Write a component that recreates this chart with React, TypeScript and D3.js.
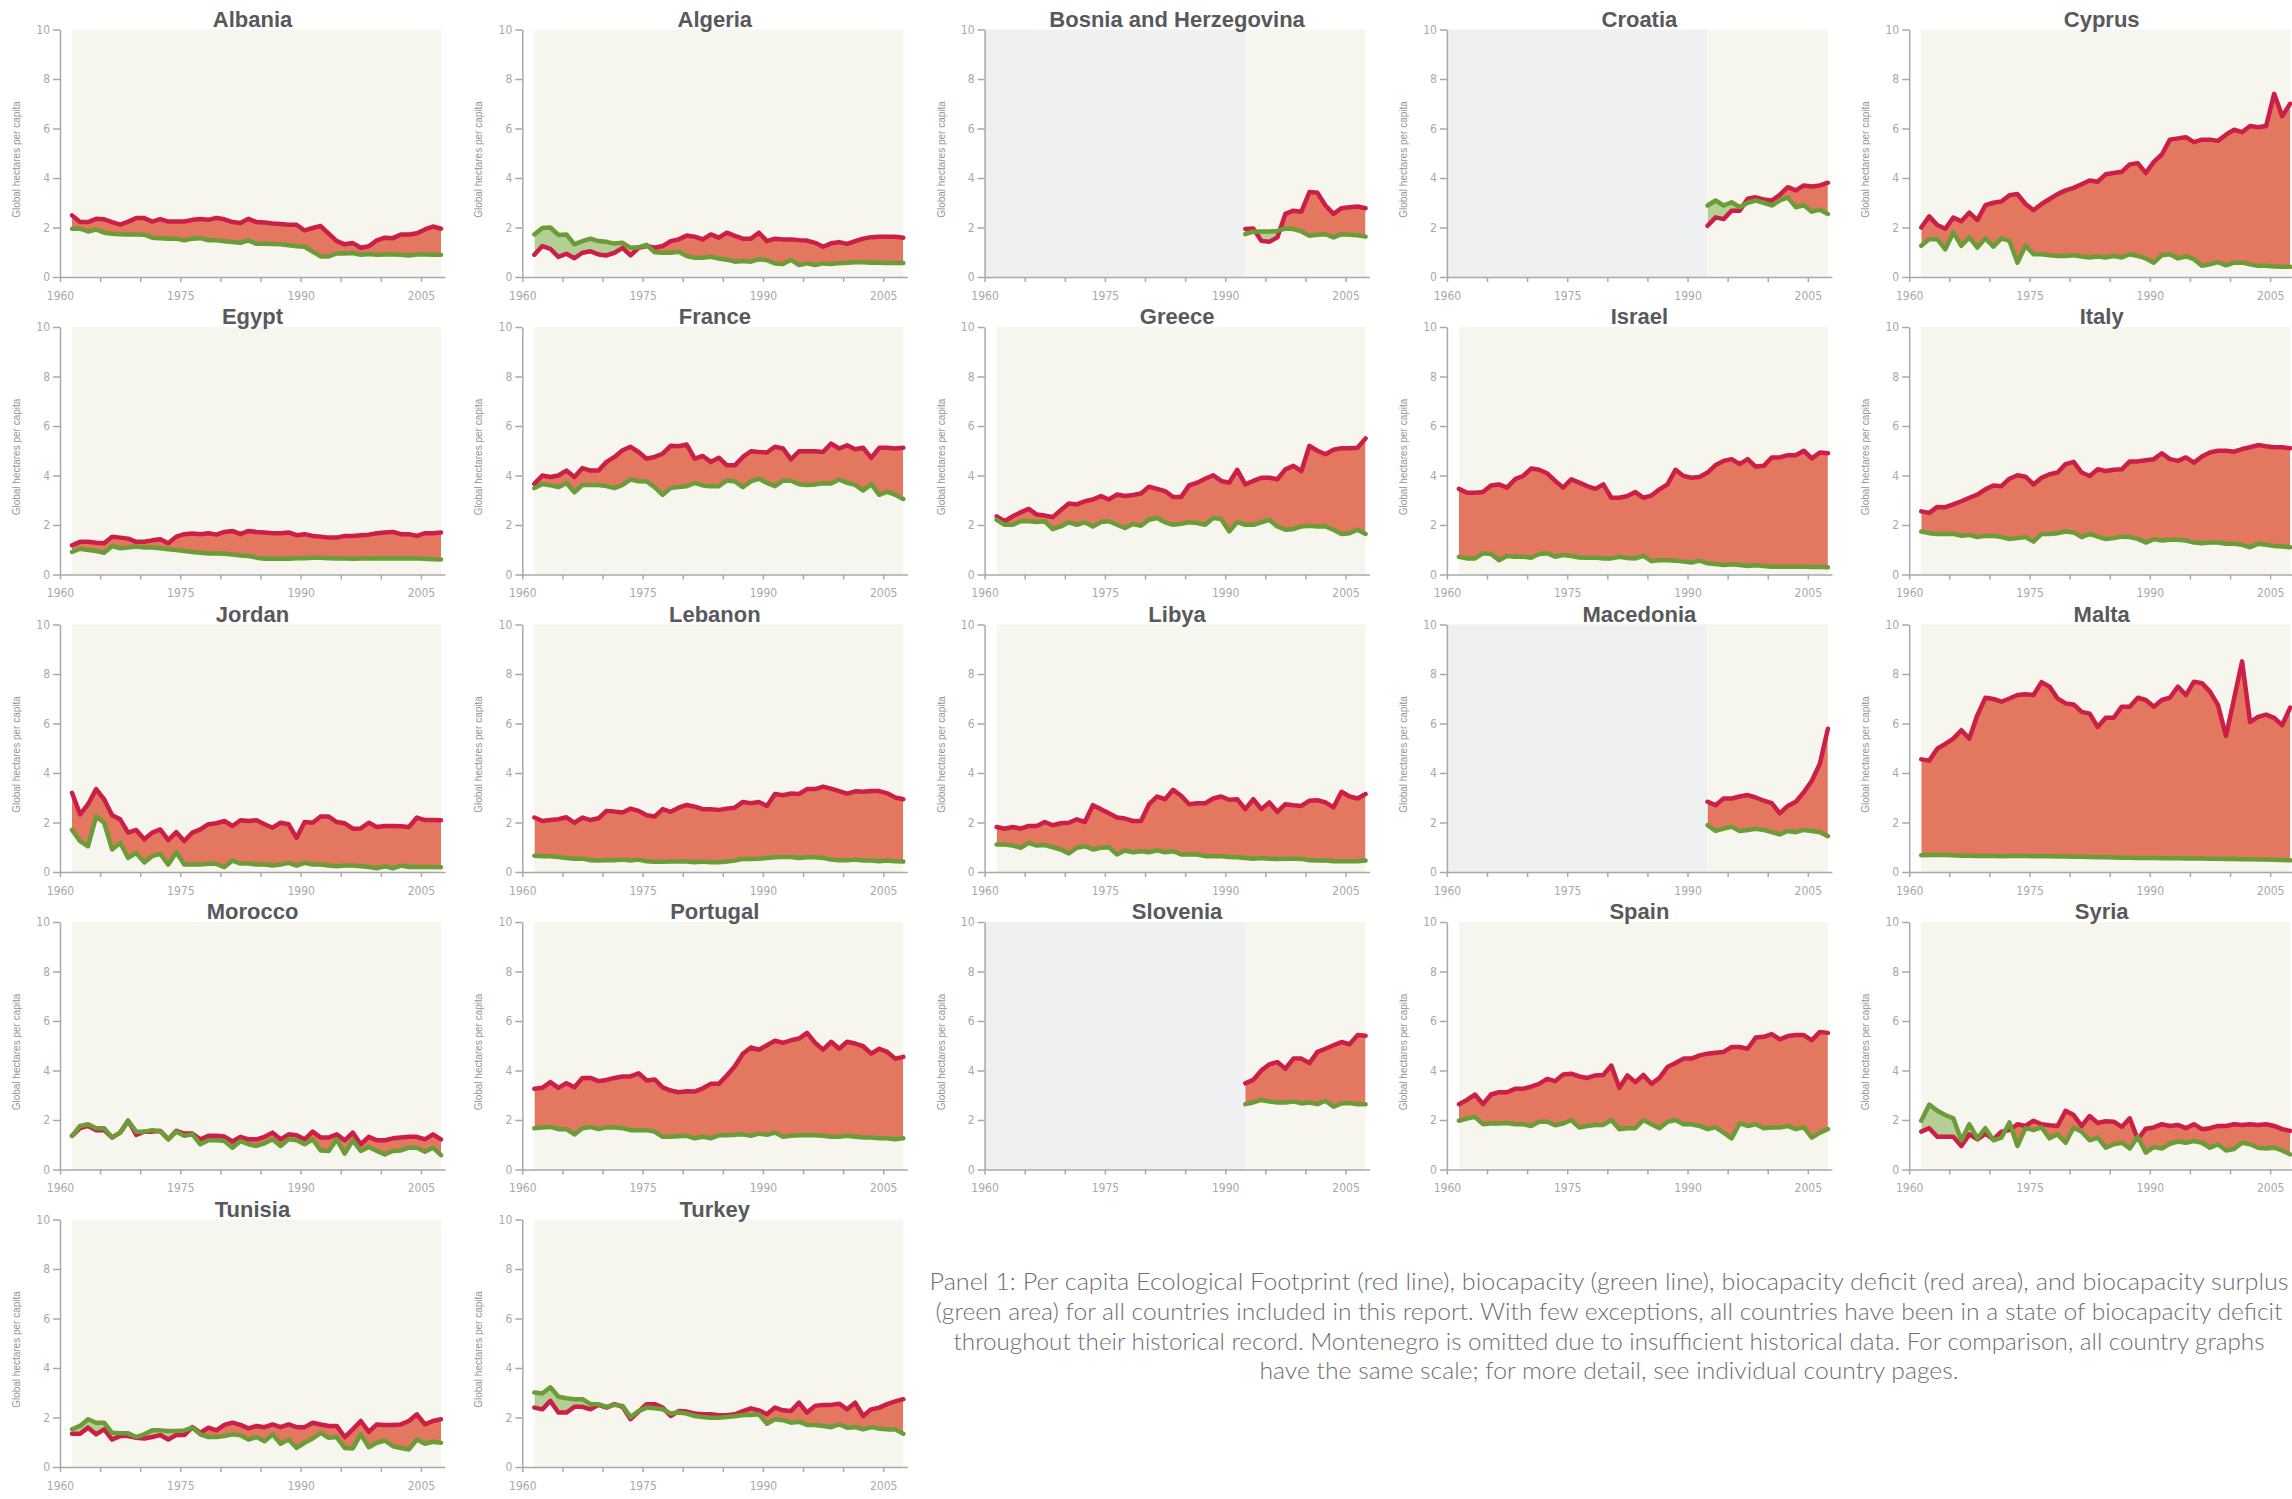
import React, { useRef, useEffect } from 'react';
import * as d3 from 'd3';

// Per capita footprint (red) and biocapacity (green), gha.
// Full series run 1961-2007, the four post-Yugoslav series 1992-2007.
const albaniaFootprint = [2.49,2.22,2.22,2.35,2.33,2.22,2.12,2.24,2.38,2.38, 2.24,2.34,2.24,2.24,2.24,2.31,2.34,2.31,2.39,2.33, 2.22,2.18,2.35,2.22,2.2,2.16,2.14,2.11,2.11,1.88, 1.98,2.06,1.75,1.45,1.32,1.37,1.18,1.24,1.48,1.59, 1.57,1.72,1.72,1.77,1.92,2.04,1.95];
const albaniaBiocapacity = [1.95,1.95,1.84,1.92,1.79,1.75,1.73,1.72,1.72,1.71, 1.59,1.57,1.55,1.55,1.48,1.55,1.57,1.48,1.48,1.44, 1.41,1.38,1.48,1.34,1.34,1.33,1.32,1.28,1.24,1.22, 1.03,0.83,0.83,0.95,0.95,0.97,0.9,0.93,0.9,0.91, 0.91,0.9,0.87,0.91,0.91,0.9,0.9];
const algeriaFootprint = [0.9,1.25,1.14,0.81,0.94,0.76,0.98,1.04,0.91,0.87, 0.98,1.18,0.87,1.18,1.25,1.18,1.25,1.45,1.52,1.68, 1.63,1.52,1.72,1.59,1.79,1.66,1.55,1.55,1.79,1.45, 1.55,1.52,1.52,1.49,1.47,1.38,1.22,1.36,1.41,1.34, 1.45,1.55,1.61,1.63,1.63,1.63,1.59];
const algeriaBiocapacity = [1.72,1.98,2.0,1.7,1.72,1.32,1.45,1.55,1.45,1.42, 1.35,1.38,1.18,1.2,1.3,1.0,0.98,0.98,1.02,0.85, 0.78,0.78,0.82,0.75,0.7,0.62,0.65,0.62,0.72,0.68, 0.55,0.52,0.7,0.48,0.55,0.48,0.55,0.52,0.56,0.58, 0.6,0.6,0.58,0.58,0.57,0.57,0.57];
const bosniaFootprint = [1.94,1.96,1.46,1.42,1.6,2.55,2.68,2.64,3.43,3.4,2.89,2.55,2.78,2.82,2.85,2.78];
const bosniaBiocapacity = [1.73,1.83,1.84,1.84,1.86,1.96,1.94,1.84,1.67,1.71,1.73,1.6,1.73,1.71,1.69,1.63];
const croatiaFootprint = [2.07,2.41,2.34,2.68,2.68,3.16,3.22,3.13,3.09,3.32,3.63,3.5,3.7,3.66,3.7,3.81];
const croatiaBiocapacity = [2.89,3.09,2.89,3.02,2.82,3.0,3.09,3.0,2.89,3.09,3.22,2.82,2.9,2.64,2.72,2.55];
const cyprusFootprint = [2.0,2.45,2.1,1.95,2.4,2.25,2.6,2.3,2.9,3.0, 3.05,3.3,3.35,2.95,2.7,2.95,3.15,3.35,3.5,3.6, 3.75,3.9,3.85,4.15,4.2,4.25,4.55,4.6,4.2,4.65, 4.95,5.55,5.6,5.65,5.45,5.55,5.55,5.5,5.75,5.95, 5.85,6.1,6.05,6.1,7.4,6.5,7.0];
const cyprusBiocapacity = [1.26,1.53,1.53,1.12,1.8,1.26,1.6,1.19,1.56,1.23, 1.56,1.46,0.58,1.26,0.92,0.92,0.88,0.85,0.85,0.88, 0.83,0.79,0.83,0.79,0.85,0.79,0.92,0.85,0.75,0.58, 0.88,0.92,0.75,0.83,0.72,0.45,0.51,0.6,0.47,0.58, 0.58,0.51,0.45,0.45,0.42,0.41,0.41];
const egyptFootprint = [1.18,1.32,1.32,1.28,1.26,1.53,1.49,1.45,1.32,1.32, 1.38,1.42,1.26,1.53,1.63,1.66,1.63,1.67,1.61,1.72, 1.76,1.63,1.76,1.72,1.7,1.67,1.67,1.7,1.59,1.63, 1.56,1.53,1.49,1.49,1.56,1.56,1.59,1.61,1.67,1.7, 1.72,1.63,1.63,1.56,1.67,1.67,1.7];
const egyptBiocapacity = [0.91,1.04,0.99,0.95,0.88,1.15,1.06,1.09,1.13,1.09, 1.09,1.06,1.02,0.99,0.95,0.91,0.88,0.85,0.85,0.84, 0.81,0.77,0.75,0.68,0.64,0.64,0.64,0.64,0.66,0.66, 0.68,0.68,0.66,0.65,0.65,0.64,0.65,0.65,0.66,0.65, 0.65,0.66,0.65,0.65,0.64,0.62,0.61];
const franceFootprint = [3.66,4.0,3.94,4.0,4.2,3.94,4.3,4.2,4.2,4.55, 4.75,5.02,5.16,4.95,4.68,4.75,4.88,5.2,5.18,5.25, 4.68,4.79,4.55,4.72,4.41,4.41,4.75,4.98,4.95,4.93, 5.16,5.09,4.65,4.98,4.98,4.98,4.95,5.29,5.09,5.22, 5.06,5.12,4.71,5.12,5.12,5.09,5.12];
const franceBiocapacity = [3.49,3.66,3.6,3.53,3.7,3.32,3.62,3.62,3.62,3.57, 3.49,3.62,3.84,3.77,3.76,3.53,3.22,3.49,3.53,3.57, 3.7,3.6,3.57,3.57,3.8,3.76,3.53,3.76,3.87,3.7, 3.57,3.79,3.79,3.65,3.62,3.64,3.69,3.68,3.84,3.7, 3.62,3.39,3.65,3.22,3.35,3.22,3.05];
const greeceFootprint = [2.35,2.15,2.35,2.51,2.65,2.42,2.38,2.32,2.6,2.87, 2.83,2.96,3.03,3.17,3.03,3.23,3.17,3.21,3.27,3.55, 3.46,3.37,3.13,3.13,3.6,3.71,3.87,4.01,3.78,3.71, 4.23,3.64,3.78,3.91,3.91,3.85,4.25,4.39,4.18,5.2, 5.0,4.86,5.04,5.1,5.1,5.12,5.5];
const greeceBiocapacity = [2.21,2.01,2.01,2.15,2.15,2.12,2.15,1.83,1.94,2.11, 2.01,2.11,1.94,2.12,2.15,2.01,1.88,2.04,1.97,2.21, 2.28,2.11,2.01,2.05,2.11,2.08,2.01,2.28,2.24,1.74, 2.12,2.01,2.01,2.11,2.21,1.94,1.81,1.83,1.94,1.97, 1.94,1.94,1.81,1.64,1.67,1.81,1.64];
const israelFootprint = [3.46,3.3,3.3,3.33,3.6,3.64,3.51,3.85,3.98,4.28, 4.23,4.09,3.78,3.51,3.85,3.71,3.57,3.46,3.64,3.1, 3.1,3.17,3.33,3.1,3.19,3.44,3.64,4.23,3.98,3.91, 3.94,4.12,4.42,4.59,4.66,4.46,4.66,4.36,4.39,4.73, 4.73,4.82,4.82,5.0,4.69,4.93,4.9];
const israelBiocapacity = [0.72,0.65,0.65,0.86,0.83,0.58,0.75,0.72,0.72,0.68, 0.83,0.86,0.72,0.79,0.75,0.69,0.68,0.69,0.65,0.65, 0.72,0.67,0.65,0.75,0.54,0.58,0.58,0.56,0.52,0.48, 0.56,0.45,0.42,0.38,0.41,0.38,0.34,0.37,0.34,0.31, 0.31,0.31,0.31,0.31,0.3,0.3,0.29];
const italyFootprint = [2.55,2.49,2.73,2.72,2.83,2.96,3.1,3.23,3.44,3.6, 3.57,3.87,4.01,3.95,3.64,3.91,4.05,4.12,4.46,4.55, 4.12,3.98,4.25,4.18,4.23,4.25,4.57,4.57,4.62,4.66, 4.9,4.66,4.59,4.73,4.52,4.77,4.93,5.0,5.0,4.96, 5.07,5.14,5.23,5.18,5.14,5.14,5.1];
const italyBiocapacity = [1.74,1.67,1.64,1.64,1.64,1.56,1.6,1.51,1.56,1.56, 1.51,1.43,1.47,1.51,1.33,1.64,1.64,1.67,1.74,1.7, 1.51,1.64,1.53,1.43,1.47,1.53,1.51,1.44,1.29,1.43, 1.37,1.4,1.4,1.37,1.29,1.26,1.29,1.29,1.24,1.24, 1.2,1.1,1.24,1.2,1.15,1.13,1.1];
const jordanFootprint = [3.2,2.33,2.74,3.35,2.94,2.29,2.13,1.59,1.7,1.32, 1.59,1.72,1.29,1.61,1.25,1.59,1.72,1.93,1.97,2.06, 1.86,2.09,2.06,2.09,1.93,1.79,1.99,1.93,1.38,2.02, 1.99,2.24,2.24,2.02,1.97,1.75,1.76,1.99,1.82,1.86, 1.86,1.85,1.82,2.2,2.1,2.1,2.09];
const jordanBiocapacity = [1.7,1.25,1.04,2.24,1.99,0.91,1.18,0.57,0.77,0.39, 0.64,0.73,0.3,0.8,0.3,0.3,0.3,0.33,0.33,0.2, 0.46,0.34,0.34,0.3,0.3,0.26,0.3,0.37,0.26,0.37, 0.3,0.3,0.26,0.23,0.26,0.26,0.23,0.2,0.15,0.23, 0.15,0.26,0.2,0.2,0.2,0.2,0.19];
const lebanonFootprint = [2.2,2.06,2.1,2.13,2.21,1.99,2.2,2.1,2.17,2.47, 2.44,2.4,2.56,2.47,2.29,2.24,2.54,2.43,2.6,2.71, 2.64,2.54,2.54,2.51,2.56,2.6,2.83,2.78,2.83,2.67, 3.15,3.1,3.17,3.15,3.35,3.35,3.45,3.37,3.27,3.17, 3.26,3.24,3.27,3.27,3.18,3.01,2.94];
const lebanonBiocapacity = [0.66,0.64,0.64,0.61,0.57,0.54,0.54,0.47,0.46,0.47, 0.47,0.5,0.46,0.5,0.43,0.41,0.41,0.42,0.42,0.42, 0.39,0.42,0.39,0.39,0.42,0.46,0.53,0.53,0.54,0.57, 0.6,0.61,0.61,0.57,0.6,0.6,0.57,0.5,0.47,0.47, 0.5,0.46,0.46,0.43,0.46,0.43,0.42];
const libyaFootprint = [1.82,1.75,1.82,1.75,1.86,1.86,2.02,1.89,1.97,1.99, 2.13,2.02,2.7,2.54,2.37,2.2,2.16,2.06,2.06,2.74, 3.05,2.94,3.32,3.08,2.74,2.78,2.78,2.97,3.05,2.92, 2.94,2.54,2.94,2.54,2.81,2.43,2.74,2.7,2.67,2.88, 2.9,2.81,2.61,3.24,3.05,2.97,3.15];
const libyaBiocapacity = [1.11,1.11,1.07,0.98,1.18,1.07,1.09,1.0,0.91,0.75, 0.98,1.04,0.91,0.98,1.0,0.71,0.87,0.8,0.84,0.8, 0.88,0.8,0.84,0.71,0.71,0.71,0.64,0.64,0.64,0.61, 0.6,0.57,0.54,0.57,0.54,0.53,0.54,0.54,0.53,0.47, 0.46,0.46,0.43,0.43,0.43,0.43,0.46];
const macedoniaFootprint = [2.84,2.7,2.97,2.97,3.05,3.11,3.01,2.88,2.78,2.37,2.67,2.84,3.22,3.69,4.37,5.79];
const macedoniaBiocapacity = [1.89,1.66,1.75,1.83,1.66,1.7,1.75,1.7,1.61,1.52,1.66,1.61,1.7,1.66,1.61,1.45];
const maltaFootprint = [4.55,4.5,4.98,5.18,5.39,5.73,5.39,6.34,7.04,6.99, 6.88,7.01,7.15,7.18,7.15,7.67,7.49,7.01,6.81,6.77, 6.47,6.4,5.86,6.23,6.23,6.68,6.68,7.04,6.95,6.68, 6.95,7.04,7.49,7.15,7.69,7.63,7.29,6.74,5.5,7.0, 8.51,6.06,6.27,6.36,6.23,5.93,6.64];
const maltaBiocapacity = [0.68,0.69,0.69,0.69,0.68,0.66,0.66,0.65,0.65,0.65, 0.64,0.65,0.65,0.65,0.64,0.64,0.64,0.63,0.63,0.62, 0.62,0.61,0.6,0.6,0.59,0.58,0.58,0.57,0.57,0.57, 0.56,0.56,0.56,0.55,0.55,0.55,0.54,0.54,0.53,0.53, 0.52,0.52,0.51,0.5,0.49,0.48,0.47];
const moroccoFootprint = [1.36,1.67,1.76,1.59,1.59,1.29,1.49,1.97,1.4,1.53, 1.53,1.56,1.22,1.56,1.45,1.45,1.22,1.36,1.36,1.33, 1.13,1.32,1.22,1.22,1.32,1.49,1.22,1.42,1.38,1.22, 1.53,1.29,1.29,1.42,1.18,1.49,1.02,1.32,1.18,1.18, 1.26,1.29,1.32,1.32,1.22,1.42,1.22];
const moroccoBiocapacity = [1.36,1.76,1.83,1.67,1.67,1.29,1.49,1.97,1.53,1.53, 1.59,1.56,1.22,1.53,1.36,1.42,1.02,1.18,1.18,1.15, 0.88,1.15,1.02,0.95,1.06,1.22,0.95,1.22,1.18,1.02, 1.22,0.77,0.75,1.22,0.64,1.18,0.75,0.91,0.75,0.61, 0.75,0.77,0.88,0.88,0.72,0.88,0.58];
const portugalFootprint = [3.26,3.3,3.53,3.3,3.49,3.32,3.7,3.7,3.57,3.62, 3.7,3.76,3.76,3.89,3.6,3.64,3.32,3.19,3.12,3.16, 3.15,3.28,3.46,3.46,3.8,4.17,4.68,4.93,4.84,5.02, 5.2,5.12,5.22,5.29,5.52,5.12,4.84,5.16,4.88,5.16, 5.09,4.98,4.68,4.88,4.75,4.48,4.55];
const portugalBiocapacity = [1.67,1.7,1.72,1.63,1.63,1.42,1.67,1.72,1.63,1.7, 1.7,1.67,1.59,1.59,1.59,1.53,1.32,1.32,1.34,1.36, 1.26,1.32,1.26,1.38,1.38,1.4,1.42,1.36,1.45,1.4, 1.49,1.32,1.36,1.38,1.38,1.38,1.36,1.32,1.32,1.36, 1.32,1.29,1.29,1.26,1.26,1.22,1.26];
const sloveniaFootprint = [3.48,3.62,4.0,4.25,4.34,4.07,4.48,4.48,4.3,4.75,4.88,5.02,5.15,5.06,5.43,5.4];
const sloveniaBiocapacity = [2.64,2.71,2.81,2.75,2.71,2.71,2.75,2.67,2.71,2.64,2.78,2.54,2.67,2.69,2.64,2.64];
const spainFootprint = [2.64,2.81,3.03,2.64,3.03,3.12,3.12,3.26,3.26,3.35, 3.46,3.66,3.57,3.84,3.87,3.76,3.7,3.8,3.82,4.2, 3.3,3.8,3.53,3.82,3.46,3.7,4.14,4.3,4.48,4.48, 4.61,4.68,4.72,4.75,4.95,4.95,4.88,5.33,5.36,5.47, 5.26,5.39,5.43,5.43,5.22,5.56,5.52];
const spainBiocapacity = [1.97,2.06,2.13,1.83,1.86,1.86,1.88,1.83,1.83,1.76, 1.93,1.93,1.79,1.86,2.0,1.7,1.76,1.8,1.8,2.0, 1.63,1.67,1.67,2.0,1.83,1.67,1.93,2.0,1.83,1.83, 1.76,1.63,1.7,1.49,1.26,1.86,1.76,1.83,1.67,1.7, 1.7,1.76,1.63,1.7,1.29,1.49,1.63];
const syriaFootprint = [1.53,1.67,1.32,1.32,1.32,0.95,1.42,1.22,1.45,1.22, 1.53,1.59,1.83,1.76,1.97,1.83,1.79,1.76,2.37,2.2, 1.76,2.16,1.88,1.95,1.93,1.72,2.07,1.22,1.65,1.7, 1.83,1.76,1.8,1.67,1.83,1.63,1.67,1.76,1.76,1.83, 1.8,1.83,1.8,1.83,1.76,1.63,1.56];
const syriaBiocapacity = [1.97,2.62,2.37,2.2,2.07,1.18,1.83,1.26,1.67,1.18, 1.29,1.9,0.95,1.67,1.59,1.7,1.26,1.42,1.08,1.7, 1.53,1.18,1.29,0.88,1.02,1.08,0.85,1.32,0.68,0.91, 0.85,1.04,1.13,1.08,1.15,1.08,0.88,1.02,0.77,0.83, 1.08,1.02,0.88,0.85,0.88,0.77,0.61];
const tunisiaFootprint = [1.34,1.34,1.59,1.32,1.52,1.11,1.25,1.25,1.18,1.15, 1.21,1.29,1.11,1.29,1.29,1.61,1.38,1.59,1.48,1.7, 1.79,1.7,1.56,1.66,1.61,1.72,1.61,1.72,1.61,1.61, 1.79,1.72,1.66,1.66,1.21,1.52,1.86,1.42,1.72,1.7, 1.7,1.72,1.86,2.13,1.72,1.86,1.93];
const tunisiaBiocapacity = [1.52,1.66,1.93,1.79,1.79,1.38,1.36,1.36,1.21,1.32, 1.48,1.48,1.45,1.45,1.48,1.59,1.32,1.21,1.21,1.25, 1.32,1.28,1.11,1.21,1.04,1.32,0.94,1.11,0.77,0.98, 1.15,1.38,1.18,1.21,0.77,0.75,1.32,0.8,0.98,1.07, 0.84,0.77,0.71,1.11,0.94,1.02,0.98];
const turkeyFootprint = [2.4,2.33,2.67,2.2,2.2,2.43,2.43,2.33,2.51,2.4, 2.54,2.43,1.93,2.24,2.54,2.54,2.4,2.06,2.26,2.24, 2.16,2.13,2.13,2.09,2.09,2.13,2.26,2.37,2.29,2.13, 2.4,2.29,2.26,2.6,2.2,2.47,2.51,2.51,2.56,2.33, 2.6,2.06,2.33,2.4,2.54,2.65,2.74];
const turkeyBiocapacity = [3.01,2.97,3.22,2.84,2.78,2.74,2.74,2.54,2.54,2.43, 2.51,2.47,2.02,2.26,2.4,2.37,2.33,2.16,2.2,2.16, 2.06,2.02,1.99,1.99,2.02,2.05,2.1,2.1,2.13,1.75, 1.93,1.89,1.79,1.83,1.7,1.7,1.66,1.61,1.72,1.59, 1.61,1.52,1.61,1.55,1.52,1.52,1.34];

const countryNames = ['Albania', 'Algeria', 'Bosnia and Herzegovina', 'Croatia', 'Cyprus', 'Egypt', 'France', 'Greece', 'Israel', 'Italy', 'Jordan', 'Lebanon', 'Libya', 'Macedonia', 'Malta', 'Morocco', 'Portugal', 'Slovenia', 'Spain', 'Syria', 'Tunisia', 'Turkey'];
const startYears = [1961, 1961, 1992, 1992, 1961, 1961, 1961, 1961, 1961, 1961, 1961, 1961, 1961, 1992, 1961, 1961, 1961, 1992, 1961, 1961, 1961, 1961];
const footprints = [albaniaFootprint, algeriaFootprint, bosniaFootprint, croatiaFootprint, cyprusFootprint, egyptFootprint, franceFootprint, greeceFootprint, israelFootprint, italyFootprint, jordanFootprint, lebanonFootprint, libyaFootprint, macedoniaFootprint, maltaFootprint, moroccoFootprint, portugalFootprint, sloveniaFootprint, spainFootprint, syriaFootprint, tunisiaFootprint, turkeyFootprint];
const biocapacities = [albaniaBiocapacity, algeriaBiocapacity, bosniaBiocapacity, croatiaBiocapacity, cyprusBiocapacity, egyptBiocapacity, franceBiocapacity, greeceBiocapacity, israelBiocapacity, italyBiocapacity, jordanBiocapacity, lebanonBiocapacity, libyaBiocapacity, macedoniaBiocapacity, maltaBiocapacity, moroccoBiocapacity, portugalBiocapacity, sloveniaBiocapacity, spainBiocapacity, syriaBiocapacity, tunisiaBiocapacity, turkeyBiocapacity];

const xTicks = [1960, 1965, 1970, 1975, 1980, 1985, 1990, 1995, 2000, 2005];
const xLabels = [1960, 1975, 1990, 2005];
const yTicks = [0, 2, 4, 6, 8, 10];
const yAxisTitle = 'Global hectares per capita';
const LAST_YEAR = 2007;

const captionLines = [
  'Panel 1: Per capita Ecological Footprint (red line), biocapacity (green line), biocapacity deficit (red area), and biocapacity surplus',
  '(green area) for all countries included in this report. With few exceptions, all countries have been in a state of biocapacity deficit',
  'throughout their historical record. Montenegro is omitted due to insufficient historical data. For comparison, all country graphs',
  'have the same scale; for more detail, see individual country pages.',
];
const captionWidths = [1359, 1347, 1311, 699];

const WIDTH = 2292;
const HEIGHT = 1499;

const App = () => {
  const svgRef = useRef<SVGSVGElement>(null);

  useEffect(() => {
    if (!svgRef.current) return;
    const svg = d3.select(svgRef.current);
    svg.selectAll('*').remove();

    const plotW = 385;
    const plotH = 247.5;
    const colStep = 462.3;
    const rowStep = 297.5;

    const x = d3.scaleLinear().domain([1960, 2008]).range([0, plotW]);
    const y = d3.scaleLinear().domain([0, 10]).range([plotH, 0]);

    const axisColor = '#a7a9ac';
    const smallFont = "'Liberation Sans Narrow', 'DejaVu Sans Condensed', 'Liberation Sans', sans-serif";

    const countries = countryNames.map((name, i) => ({
      name,
      start: startYears[i],
      points: footprints[i].map((f, k) => ({ year: startYears[i] + k, f, b: biocapacities[i][k] })),
    }));

    const defs = svg.append('defs');

    countries.forEach((c, i) => {
      const col = i % 5;
      const row = Math.floor(i / 5);
      const g = svg.append('g')
        .attr('transform', `translate(${60 + col * colStep}, ${29.5 + row * rowStep})`);

      type P = { year: number; f: number; b: number };
      const px = (d: P) => x(d.year + 0.5);

      // grey for years without data, beige for the recorded period
      if (c.start > 1961) {
        g.append('rect')
          .attr('x', 0).attr('y', 0)
          .attr('width', x(c.start + 0.5)).attr('height', plotH)
          .attr('fill', '#eff0f2');
      }
      g.append('rect')
        .attr('x', x(c.start + 0.5)).attr('y', 0)
        .attr('width', x(LAST_YEAR + 0.5) - x(c.start + 0.5)).attr('height', plotH)
        .attr('fill', '#f6f5ee');

      // clip regions below each line
      const belowRed = d3.area<P>().x(px).y0(plotH).y1(d => y(d.f));
      const belowGreen = d3.area<P>().x(px).y0(plotH).y1(d => y(d.b));
      defs.append('clipPath').attr('id', `below-red-${i}`)
        .append('path').attr('d', belowRed(c.points));
      defs.append('clipPath').attr('id', `below-green-${i}`)
        .append('path').attr('d', belowGreen(c.points));

      // deficit: above green, below red
      g.append('path')
        .attr('d', d3.area<P>().x(px).y0(d => y(d.b)).y1(0)(c.points))
        .attr('clip-path', `url(#below-red-${i})`)
        .attr('fill', '#e4775f');
      // surplus: above red, below green
      g.append('path')
        .attr('d', d3.area<P>().x(px).y0(d => y(d.f)).y1(0)(c.points))
        .attr('clip-path', `url(#below-green-${i})`)
        .attr('fill', '#b4cf95');

      g.append('path')
        .attr('d', d3.line<P>().x(px).y(d => y(d.f))(c.points))
        .attr('fill', 'none')
        .attr('stroke', '#cc1f47')
        .attr('stroke-width', 4.5)
        .attr('stroke-linejoin', 'round')
        .attr('stroke-linecap', 'round');
      g.append('path')
        .attr('d', d3.line<P>().x(px).y(d => y(d.b))(c.points))
        .attr('fill', 'none')
        .attr('stroke', '#6c9c37')
        .attr('stroke-width', 4.5)
        .attr('stroke-linejoin', 'round')
        .attr('stroke-linecap', 'round');

      // axes
      const yAxis = g.append('g')
        .call(d3.axisLeft(y).tickValues(yTicks).tickSize(7).tickSizeOuter(0).tickPadding(3));
      const xAxis = g.append('g')
        .attr('transform', `translate(0, ${plotH})`)
        .call(d3.axisBottom(x).tickValues(xTicks).tickSize(5).tickSizeOuter(0).tickPadding(9)
          .tickFormat(d => (xLabels.includes(+d) ? String(d) : '')));
      [yAxis, xAxis].forEach(a => {
        a.selectAll('path, line').attr('stroke', axisColor).attr('stroke-width', 1.5);
        a.selectAll('text')
          .attr('fill', axisColor)
          .style('font-family', smallFont)
          .style('font-size', '12px');
      });

      g.append('text')
        .attr('transform', `translate(-40, 130) rotate(-90)`)
        .attr('text-anchor', 'middle')
        .attr('fill', '#939598')
        .style('font-family', "'Liberation Sans', Arial, sans-serif")
        .style('font-size', '10px')
        .text(yAxisTitle);

      g.append('text')
        .attr('x', plotW / 2)
        .attr('y', -3)
        .attr('text-anchor', 'middle')
        .attr('fill', '#58595b')
        .style('font-family', "'Liberation Sans', Arial, sans-serif")
        .style('font-weight', 'bold')
        .style('font-size', '22px')
        .text(c.name);
    });

    const caption = svg.append('g');
    captionLines.forEach((line, k) => {
      caption.append('text')
        .attr('x', 1609)
        .attr('y', 1290 + k * 29.8)
        .attr('text-anchor', 'middle')
        .attr('textLength', captionWidths[k])
        .attr('lengthAdjust', 'spacingAndGlyphs')
        .attr('fill', '#6d6e71')
        .style('font-family', "'Lato', 'Open Sans', sans-serif")
        .style('font-weight', 300)
        .style('font-size', '23px')
        .text(line);
    });
  }, []);

  return (
    <div>
      <style>{'body { margin: 0; background: #ffffff; }'}</style>
      <svg ref={svgRef} width={WIDTH} height={HEIGHT} style={{ display: 'block' }} />
    </div>
  );
};

export default App;
